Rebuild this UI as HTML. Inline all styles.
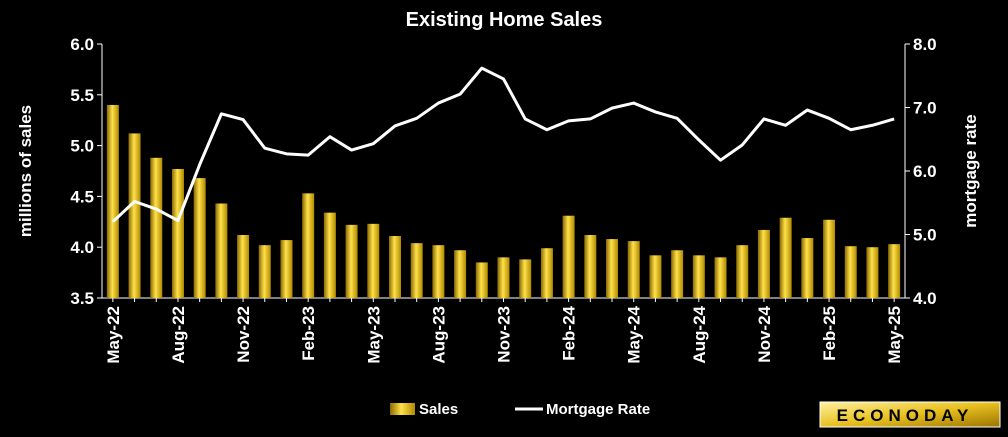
<!DOCTYPE html>
<html><head><meta charset="utf-8"><style>
body{margin:0;background:#000;width:1008px;height:432px;overflow:hidden;font-family:"Liberation Sans",sans-serif}
</style></head><body>
<svg id="c" width="1008" height="432" xmlns="http://www.w3.org/2000/svg">
<defs>
<linearGradient id="g" x1="0" x2="1" y1="0" y2="0">
<stop offset="0" stop-color="#8a6a00"/><stop offset="0.45" stop-color="#ffe14a"/><stop offset="1" stop-color="#b08a00"/>
</linearGradient>
<linearGradient id="lg" x1="0" x2="1" y1="0" y2="1">
<stop offset="0" stop-color="#fff1a0"/><stop offset="0.5" stop-color="#e8c020"/><stop offset="1" stop-color="#9a7400"/>
</linearGradient>
</defs>
<text x="504" y="26" fill="#fff" font-size="20" font-weight="bold" text-anchor="middle">Existing Home Sales</text>
<g id="axes"></g>
<g id="bars"></g>
<g id="line"></g>
<text transform="translate(31,171) rotate(-90)" fill="#fff" font-size="17" font-weight="bold" text-anchor="middle">millions of sales</text>
<text transform="translate(976,171) rotate(-90)" fill="#fff" font-size="17" font-weight="bold" text-anchor="middle">mortgage rate</text>
<g><rect x="390" y="403" width="25" height="12" fill="url(#g)"/><text x="419" y="414" fill="#fff" font-size="15" font-weight="bold">Sales</text></g>
<g><line x1="515" y1="409" x2="543" y2="409" stroke="#fff" stroke-width="3"/><text x="546" y="414" fill="#fff" font-size="15" font-weight="bold">Mortgage Rate</text></g>
<g><rect x="820" y="402" width="180" height="25" fill="url(#lg)" stroke="#fff" stroke-width="1"/><text x="905" y="421" fill="#000" font-size="17" font-weight="bold" text-anchor="middle" letter-spacing="5">ECONODAY</text></g>
</svg>
<script>
const months=["May-22","Jun-22","Jul-22","Aug-22","Sep-22","Oct-22","Nov-22","Dec-22","Jan-23","Feb-23","Mar-23","Apr-23","May-23","Jun-23","Jul-23","Aug-23","Sep-23","Oct-23","Nov-23","Dec-23","Jan-24","Feb-24","Mar-24","Apr-24","May-24","Jun-24","Jul-24","Aug-24","Sep-24","Oct-24","Nov-24","Dec-24","Jan-25","Feb-25","Mar-25","Apr-25","May-25"];
const sales=[5.40,5.12,4.88,4.77,4.68,4.43,4.12,4.02,4.07,4.53,4.34,4.22,4.23,4.11,4.04,4.02,3.97,3.85,3.90,3.88,3.99,4.31,4.12,4.08,4.06,3.92,3.97,3.92,3.90,4.02,4.17,4.29,4.09,4.27,4.01,4.00,4.03];
const rate=[5.20,5.52,5.40,5.22,6.10,6.90,6.81,6.36,6.27,6.25,6.54,6.33,6.43,6.71,6.83,7.07,7.21,7.62,7.45,6.82,6.65,6.79,6.82,6.99,7.07,6.93,6.83,6.49,6.17,6.41,6.82,6.72,6.96,6.83,6.65,6.72,6.82];
const leftTicks=["3.5","4.0","4.5","5.0","5.5","6.0"];
const rightTicks=["4.0","5.0","6.0","7.0","8.0"];
const X0=102,X1=905,YT=44,YB=298;
const ns="http://www.w3.org/2000/svg";
const bw=(X1-X0)/months.length;
const xc=i=>X0+bw*(i+0.5);
const yL=v=>YB-(v-3.5)/2.5*(YB-YT);
const yR=v=>YB-(v-4)/4*(YB-YT);
function mk(t,a,p){const e=document.createElementNS(ns,t);for(const k in a)e.setAttribute(k,a[k]);p.appendChild(e);return e;}
const ax=document.getElementById('axes');
let e=mk('line',{x1:X0,y1:YT,x2:X0,y2:YB,stroke:'#fff','stroke-width':1},ax);


e=mk('line',{x1:X1,y1:YT,x2:X1,y2:YB,stroke:'#fff','stroke-width':1},ax);


e=mk('line',{x1:X0,y1:YB,x2:X1,y2:YB,stroke:'#fff','stroke-width':1},ax);


leftTicks.forEach(t=>{const y=yL(+t);mk('line',{x1:X0-5,y1:y,x2:X0,y2:y,stroke:'#fff'},ax);
const tx=mk('text',{x:X0-8,y:y+6,fill:'#fff','font-size':17,'font-weight':'bold','text-anchor':'end'},ax);tx.textContent=t;

});
rightTicks.forEach(t=>{const y=yR(+t);mk('line',{x1:X1,y1:y,x2:X1+5,y2:y,stroke:'#fff'},ax);
const tx=mk('text',{x:X1+8,y:y+6,fill:'#fff','font-size':17,'font-weight':'bold'},ax);tx.textContent=t;

});
months.forEach((m,i)=>{const x=xc(i);mk('line',{x1:x,y1:YB,x2:x,y2:YB+4,stroke:'#fff'},ax);
if(i%3===0){const tx=mk('text',{transform:`translate(${x+6},${YB+8}) rotate(-90)`,fill:'#fff','font-size':17,'font-weight':'bold','text-anchor':'end'},ax);tx.textContent=m;

}});
const bg=document.getElementById('bars');
sales.forEach((v,i)=>{const y=yL(v);const r=mk('rect',{x:xc(i)-6,y:y,width:12,height:YB-y,fill:'url(#g)'},bg);

});
const lg=document.getElementById('line');
const pl=mk('polyline',{points:rate.map((v,i)=>xc(i)+','+yR(v)).join(' '),fill:'none',stroke:'#fff','stroke-width':3,'stroke-linejoin':'round'},lg);


</script>
</body></html>
